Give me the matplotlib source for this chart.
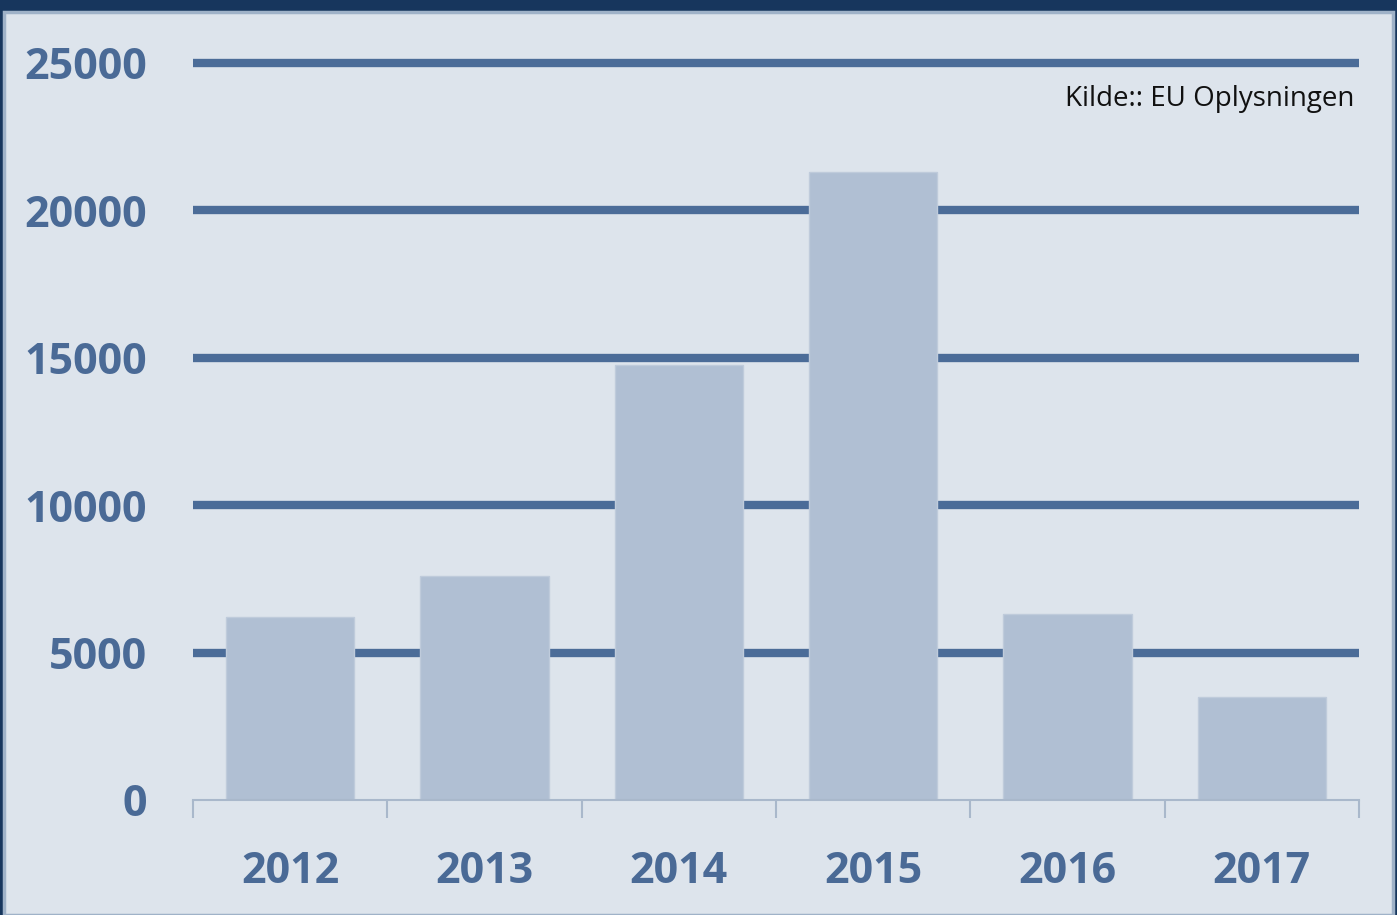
import matplotlib
matplotlib.use("Agg")
import matplotlib.pyplot as plt
from matplotlib.patches import Rectangle

years = ["2012", "2013", "2014", "2015", "2016", "2017"]
values = [6200, 7600, 14750, 21300, 6300, 3500]
yticks = [0, 5000, 10000, 15000, 20000, 25000]
source_text = "Kilde:: EU Oplysningen"

W, H = 1397, 915
fig = plt.figure(figsize=(W / 100, H / 100), dpi=100)
fig.patch.set_facecolor("#17365d")
# inner panel
fig.patches.append(Rectangle((4 / W, 0), (W - 8) / W, (H - 12) / H,
                             transform=fig.transFigure, facecolor="#dde4ec",
                             edgecolor="#9fb2c8", linewidth=2.5, zorder=-5))

ax = fig.add_axes([193 / W, 1 - 800 / H, (1359 - 193) / W, (800 - 63) / H])
ax.set_zorder(2)
ax.set_facecolor("none")
x = list(range(len(years)))
ax.set_xlim(-0.5, len(years) - 0.5)
ax.set_ylim(0, 25000)

grid_col = "#4b6c98"
for t in yticks[1:]:
    ax.axhline(t, color=grid_col, linewidth=6, zorder=1, clip_on=False, solid_capstyle="butt")

ax.bar(x, values, width=0.66, color="#b0bfd3", edgecolor="#bfcbdb", linewidth=1, zorder=2)

for s in ["top", "right", "left"]:
    ax.spines[s].set_visible(False)
ax.spines["bottom"].set_color("#a9b8cb")
ax.spines["bottom"].set_linewidth(1.5)

txt_col = "#4a6a96"
ax.set_yticks(yticks)
ax.set_yticklabels([str(v) for v in yticks], fontfamily="Open Sans", fontweight="bold",
                   fontsize=31, color=txt_col)
ax.tick_params(axis="y", length=0, pad=33)
ax.set_xticks(x)
ax.set_xticklabels(years, fontfamily="Open Sans", fontweight="bold", fontsize=31, color=txt_col)
ax.tick_params(axis="x", which="major", length=0, pad=36)
ax.set_xticks([i - 0.5 for i in range(len(years) + 1)], minor=True)
ax.tick_params(axis="x", which="minor", length=13, width=1.5, color="#a9b8cb", direction="out")

fig.text(1354 / W, 1 - 99 / H, source_text, ha="right", va="center",
         fontfamily="Open Sans", fontsize=20, color="#111111", zorder=5)

fig.savefig("out.png", dpi=100, facecolor=fig.get_facecolor())
